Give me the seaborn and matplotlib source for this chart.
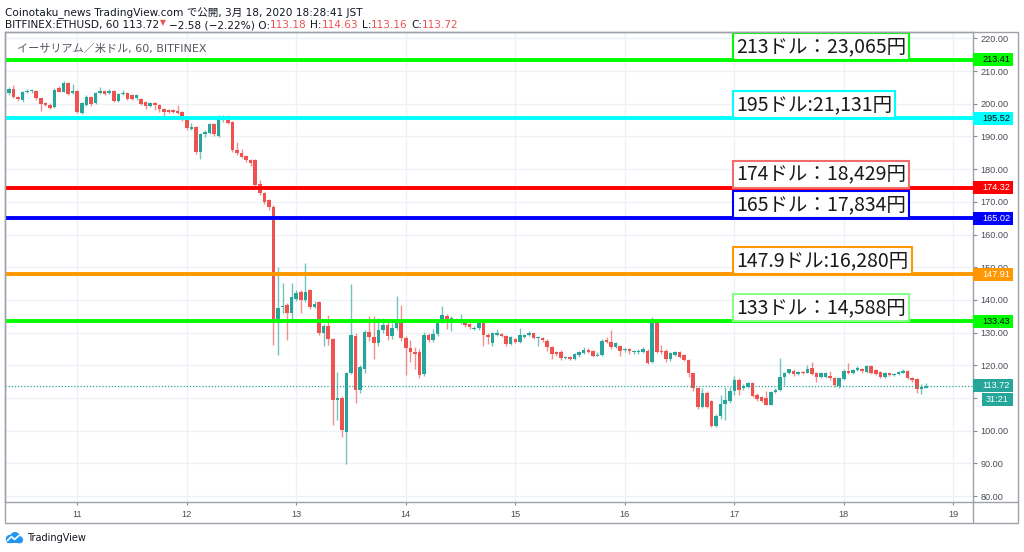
import numpy as np
import pandas as pd
import matplotlib
matplotlib.use('Agg')
import matplotlib.pyplot as plt
import matplotlib.transforms as mtransforms
from matplotlib.patches import Rectangle, Circle
from matplotlib.lines import Line2D
import seaborn as sns

sns.set_theme(style='white')
plt.rcParams['font.family'] = ['DejaVu Sans', 'Noto Sans CJK JP']

# ETHUSD 1時間足 (3/10 09:00 ～ 3/18 18:00)
first_hour = 10 + 9 / 24

open_ = [203.4, 204.5, 202.1, 201.1, 203.6, 203.9, 204.0, 201.6, 200.1, 199.7,
         198.9, 204.7, 203.7, 206.4, 203.4, 204.0, 197.3, 199.6, 202.1, 200.1,
         203.4, 204.0, 203.2, 204.0, 200.9, 203.0, 203.2, 202.7, 201.6, 201.3,
         200.4, 199.4, 200.1, 199.5, 198.3, 198.1, 198.0, 197.9, 197.6, 195.0,
         192.4, 192.8, 185.1, 190.6, 191.0, 193.8, 190.1, 195.0, 195.2, 194.5,
         185.8, 185.0, 184.0, 182.8, 182.8, 175.3, 172.6, 170.5, 168.5, 133.8,
         137.8, 138.4, 135.9, 140.4, 142.4, 140.0, 143.0, 137.9, 139.3, 129.8,
         132.0, 128.0, 109.4, 109.9, 99.7, 117.7, 129.0, 112.6, 118.8, 130.3,
         128.6, 126.9, 130.8, 132.3, 129.0, 131.3, 133.3, 128.2, 125.2, 124.2,
         124.0, 117.2, 129.3, 127.7, 129.5, 133.3, 135.2, 134.0, 134.2, 133.9,
         133.3, 132.6, 131.2, 131.3, 132.8, 129.3, 126.7, 129.3, 129.6, 129.1,
         126.5, 128.0, 127.2, 128.8, 129.3, 129.8, 128.3, 128.4, 127.5, 125.7,
         124.0, 124.2, 122.1, 122.4, 121.9, 123.2, 123.7, 124.7, 124.4, 123.0,
         123.2, 127.7, 127.2, 125.7, 125.9, 124.7, 124.9, 124.0, 124.0, 124.2,
         124.5, 121.1, 133.9, 124.5, 124.5, 121.8, 123.2, 124.2, 123.1, 121.6,
         117.5, 113.0, 107.4, 111.6, 109.1, 101.4, 104.5, 108.2, 109.2, 112.2,
         115.5, 113.0, 113.5, 114.7, 110.9, 110.2, 110.0, 108.0, 111.9, 112.4,
         116.3, 117.5, 118.4, 117.4, 118.0, 117.8, 119.1, 117.7, 116.3, 116.5,
         116.7, 116.0, 113.7, 115.7, 118.4, 117.8, 118.6, 118.8, 118.1, 119.8,
         118.6, 118.1, 116.5, 117.5, 116.9, 117.2, 117.8, 118.4, 116.0, 115.7,
         112.7, 113.18]
high = [205.2, 205.7, 202.5, 204.0, 204.5, 204.5, 204.2, 201.8, 200.5, 200.3,
        204.8, 205.5, 207.0, 206.7, 206.0, 204.3, 200.6, 202.6, 202.4, 203.5,
        205.0, 204.3, 204.4, 204.3, 203.4, 204.2, 203.6, 203.0, 203.0, 201.6,
        200.7, 200.5, 200.4, 199.8, 198.6, 198.4, 198.5, 199.6, 197.9, 195.3,
        194.2, 193.1, 191.0, 192.0, 194.2, 194.0, 196.5, 196.6, 196.6, 194.8,
        188.4, 186.0, 184.4, 183.2, 183.0, 176.8, 173.0, 171.0, 169.0, 150.2,
        145.1, 139.0, 145.1, 143.0, 143.0, 151.4, 143.4, 139.6, 139.8, 132.5,
        135.4, 128.5, 118.0, 110.5, 118.0, 144.9, 130.0, 120.0, 130.8, 135.0,
        135.2, 134.5, 134.5, 133.2, 133.0, 141.2, 138.4, 129.0, 127.8, 125.5,
        125.0, 130.3, 129.8, 131.0, 134.0, 138.1, 135.7, 135.0, 134.6, 135.8,
        134.3, 133.0, 132.0, 133.6, 133.2, 129.8, 130.2, 131.0, 130.0, 129.4,
        129.0, 128.4, 131.3, 129.6, 130.5, 130.0, 129.0, 128.8, 128.0, 126.0,
        124.4, 124.6, 122.8, 122.7, 123.9, 124.4, 125.5, 125.3, 124.8, 124.0,
        128.0, 128.7, 130.8, 127.2, 126.3, 125.3, 125.2, 124.8, 125.0, 125.5,
        124.9, 134.9, 134.3, 126.2, 124.9, 124.0, 124.5, 124.5, 123.4, 122.0,
        117.8, 113.5, 113.0, 112.0, 109.5, 105.0, 111.0, 113.5, 113.5, 116.8,
        116.0, 114.3, 115.0, 115.0, 111.6, 110.6, 112.0, 112.2, 113.0, 122.1,
        118.0, 119.0, 118.8, 118.4, 118.3, 120.0, 121.1, 118.0, 118.0, 118.0,
        118.3, 116.3, 116.5, 118.8, 120.8, 119.0, 119.8, 119.1, 120.1, 120.2,
        119.0, 118.4, 118.0, 117.8, 117.5, 118.3, 118.8, 118.7, 116.3, 116.0,
        114.2, 114.63]
low = [202.6, 201.8, 200.8, 200.6, 203.2, 203.2, 201.2, 197.9, 199.3, 198.4,
       198.6, 203.5, 203.5, 202.8, 203.0, 197.2, 196.8, 199.2, 199.4, 199.8,
       203.0, 202.6, 202.9, 200.6, 200.5, 202.7, 201.0, 201.1, 201.2, 199.5,
       198.5, 199.0, 198.2, 197.5, 196.3, 197.2, 197.2, 197.0, 194.8, 192.0,
       191.9, 184.5, 183.0, 189.8, 190.7, 190.0, 189.8, 194.5, 193.8, 185.3,
       184.3, 183.4, 182.2, 181.0, 174.6, 172.0, 169.3, 167.5, 126.2, 123.1,
       135.9, 127.7, 133.4, 139.8, 136.0, 139.5, 137.3, 137.4, 129.3, 125.9,
       126.2, 101.7, 103.3, 98.2, 89.8, 117.2, 108.4, 111.5, 117.8, 127.5,
       121.8, 126.0, 130.0, 127.8, 128.0, 130.8, 127.5, 117.0, 121.0, 119.0,
       116.0, 116.8, 127.2, 127.0, 129.0, 133.0, 131.0, 130.5, 133.2, 132.5,
       131.8, 131.0, 130.8, 130.8, 126.0, 126.5, 126.0, 129.0, 128.6, 126.0,
       126.2, 126.8, 126.8, 128.4, 129.0, 128.0, 126.0, 127.2, 124.4, 121.8,
       123.0, 121.7, 121.8, 121.5, 121.6, 122.6, 123.4, 123.9, 122.6, 122.7,
       122.8, 126.8, 125.0, 125.3, 123.0, 124.2, 123.4, 123.5, 123.6, 123.9,
       120.5, 120.6, 123.8, 123.5, 121.0, 121.4, 122.8, 122.2, 121.3, 116.5,
       112.0, 106.5, 107.0, 106.8, 101.0, 101.2, 103.5, 103.3, 108.6, 111.0,
       111.0, 112.6, 113.0, 110.2, 109.0, 108.8, 107.8, 107.8, 111.5, 112.0,
       114.0, 117.2, 116.8, 117.0, 117.3, 117.5, 117.0, 114.8, 116.0, 116.2,
       115.5, 113.3, 113.0, 115.4, 117.3, 117.3, 118.3, 117.8, 117.8, 117.4,
       117.0, 116.0, 116.2, 116.6, 116.7, 117.0, 117.5, 115.7, 115.0, 111.4,
       111.2, 113.16]
close = [204.4, 202.1, 201.3, 203.5, 204.0, 204.1, 201.6, 199.9, 199.7, 198.8,
         204.2, 203.7, 206.4, 203.0, 204.0, 197.6, 200.1, 202.1, 199.9, 203.2,
         204.0, 203.0, 204.0, 200.9, 203.0, 203.4, 201.3, 201.4, 202.6, 199.9,
         199.3, 200.1, 199.5, 198.3, 197.6, 197.5, 197.5, 197.3, 195.0, 192.5,
         192.8, 185.1, 190.6, 191.4, 193.8, 190.6, 195.2, 195.5, 194.2, 185.8,
         184.8, 183.8, 182.8, 181.8, 175.1, 172.6, 170.0, 168.5, 133.9, 137.4,
         138.2, 135.9, 140.8, 142.2, 140.0, 142.3, 137.9, 138.9, 129.8, 132.0,
         128.0, 109.4, 109.9, 100.2, 117.7, 129.3, 112.6, 119.4, 130.3, 128.6,
         126.9, 130.8, 132.3, 129.0, 131.3, 133.3, 128.2, 125.2, 124.2, 123.6,
         117.0, 129.3, 127.7, 129.5, 133.3, 135.4, 134.2, 134.4, 134.0, 134.2,
         132.3, 131.6, 131.5, 132.8, 129.3, 128.8, 129.8, 129.8, 129.1, 126.5,
         128.6, 127.2, 129.3, 129.2, 129.8, 128.3, 128.6, 127.6, 125.7, 123.5,
         123.6, 122.1, 122.4, 121.8, 123.5, 124.0, 124.7, 124.2, 123.0, 123.3,
         127.5, 127.2, 125.5, 126.7, 124.5, 124.9, 124.5, 124.4, 124.5, 124.9,
         120.8, 133.9, 124.2, 124.2, 121.8, 123.7, 124.2, 122.6, 121.6, 117.5,
         113.0, 107.4, 111.6, 107.4, 101.4, 104.5, 108.2, 109.4, 112.2, 115.5,
         112.5, 113.6, 114.7, 110.6, 109.6, 109.2, 108.0, 111.9, 112.6, 116.3,
         117.5, 118.8, 117.2, 118.0, 117.7, 118.8, 117.3, 116.5, 117.7, 117.7,
         116.0, 114.0, 116.0, 118.4, 117.6, 118.6, 119.1, 118.4, 119.8, 117.7,
         117.3, 116.3, 117.7, 116.9, 117.2, 117.9, 118.4, 116.0, 115.5, 112.7,
         113.5, 113.72]

# 水平線 (価格レベル)
levels = [213.41, 195.52, 174.32, 165.02, 147.91, 133.43]
level_colors = ['#00ff00', '#00ffff', '#ff0000', '#0000ff', '#ff9800', '#00ff00']
tag_text_colors = ['#000000', '#000000', '#ffffff', '#ffffff', '#ffffff', '#000000']
box_texts = ['213ドル：23,065円', '195ドル:21,131円', '174ドル：18,429円',
             '165ドル：17,834円', '147.9ドル:16,280円', '133ドル：14,588円']
box_edges = ['#00ff00', '#00ffff', '#f26c6c', '#0000ff', '#ff9800', '#88ff88']
last_price = 113.72
countdown = '31:21'
y_ticks = list(range(80, 221, 10))
day_ticks = list(range(11, 20))

df = pd.DataFrame({'open': open_, 'high': high, 'low': low, 'close': close})
df['t'] = first_hour + np.arange(len(df)) / 24
up = df['close'] >= df['open']
GREEN, RED = '#26a69a', '#ef5350'
df['color'] = np.where(up, GREEN, RED)

W, H = 1024, 552
fig = plt.figure(figsize=(W / 100, H / 100), dpi=100)
fig.patch.set_facecolor('white')
ax = fig.add_axes([5 / W, 1 - 502 / H, 968 / W, 470 / H])
ax.set_xlim(10.34, 19.18)
ax.set_ylim(78.2, 221.93)

# グリッド
ax.set_yticks(y_ticks, labels=[f'{v:.2f}' for v in y_ticks],
              fontsize=6.6, family='Liberation Sans', color='#4a4d57')
ax.set_xticks(day_ticks, labels=[str(d) for d in day_ticks],
              fontsize=6.6, family='Liberation Sans', color='#4a4d57')
ax.grid(True, color='#eef1f6', lw=1)
ax.yaxis.tick_right()
ax.tick_params(axis='y', length=3, width=0.8, color='#8a8d96', pad=2.5, right=True, left=False)
ax.tick_params(axis='x', length=2, width=0.8, color='#8a8d96', pad=4, bottom=True)
for sp in ax.spines.values():
    sp.set_color('#9ea1aa')
    sp.set_linewidth(1)

# ローソク足
ax.vlines(df['t'], df['low'], df['high'], colors=df['color'], lw=1, alpha=0.65, zorder=2)
body = np.maximum((df['close'] - df['open']).abs(), 0.25)
ax.bar(df['t'], body, bottom=np.minimum(df['open'], df['close']),
       width=0.78 / 24, color=df['color'], linewidth=0, zorder=3)

# 現在値の点線
ax.axhline(last_price, color=GREEN, lw=0.9, ls=(0, (1, 1.5)), zorder=3)

trans = mtransforms.blended_transform_factory(ax.transAxes, ax.transData)
unit_px = (221.93 - 78.2) / 470
for lv, c, tc, txt, ec in zip(levels, level_colors, tag_text_colors, box_texts, box_edges):
    ax.axhline(lv, color=c, lw=2.8, zorder=4)
    ax.annotate(txt, xy=(17.0, lv), xytext=(1.5, 2.2), textcoords='offset points',
                ha='left', va='bottom', fontsize=14, family=['Noto Sans CJK JP'],
                color='#1a1a1a', zorder=5,
                bbox=dict(boxstyle='square,pad=0.15', fc='white', ec=ec, lw=1.5))
    ax.add_patch(Rectangle((1.0, lv - 6.5 * unit_px), 40 / 968, 13 * unit_px,
                           transform=trans, fc=c, ec='none', clip_on=False, zorder=6))
    ax.text(1.0 + 9 / 968, lv, f'{lv:.2f}', transform=trans, ha='left', va='center',
            fontsize=6.6, family='Liberation Sans', color=tc, clip_on=False, zorder=7)

# 現在値タグとカウントダウン
ax.add_patch(Rectangle((1.0, last_price - 6.5 * unit_px), 40 / 968, 13 * unit_px,
                       transform=trans, fc=GREEN, ec='none', clip_on=False, zorder=6))
ax.text(1.0 + 9 / 968, last_price, f'{last_price:.2f}', transform=trans, ha='left',
        va='center', fontsize=6.6, family='Liberation Sans', color='white', clip_on=False, zorder=7)
ax.add_patch(Rectangle((1.0 + 9 / 968, last_price - 20.5 * unit_px), 31 / 968, 13 * unit_px,
                       transform=trans, fc=GREEN, ec='none', clip_on=False, zorder=6))
ax.text(1.0 + 24.5 / 968, last_price - 14 * unit_px, countdown, transform=trans, ha='center',
        va='center', fontsize=6.6, family='Liberation Sans', color='white', clip_on=False, zorder=7)

# 凡例テキスト
ax.text(12 / 968, 1 - 19.7 / 470, 'イーサリアム／米ドル, 60, BITFINEX', transform=ax.transAxes,
        fontsize=8, color='#555861', va='baseline', ha='left')

# 外枠
fig.add_artist(Rectangle((5 / W, 1 - 523 / H), 1013 / W, 491 / H, transform=fig.transFigure,
                         fill=False, ec='#9ea1aa', lw=1))
fig.add_artist(Line2D([973 / W, 1018 / W], [1 - 502 / H, 1 - 502 / H], color='#9ea1aa', lw=1))
fig.add_artist(Line2D([973 / W, 973 / W], [1 - 502 / H, 1 - 523 / H], color='#9ea1aa', lw=1))

# ヘッダー
DARK = '#131722'
fig.text(5 / W, 1 - 15.7 / H, 'Coinotaku_news TradingView.com で公開, 3月 18, 2020 18:28:41 JST',
         fontsize=7.6, color=DARK, va='baseline', ha='left')

renderer = fig.canvas.get_renderer()
space = 7.6 / 72 * 100 * 0.318
runs = [('BITFINEX:ETHUSD, 60 113.72', DARK, 0, 7.6), ('▼', RED, 0.5, 5.5),
        ('−2.58 (−2.22%) O:', DARK, space, 7.6), ('113.18', RED, 0, 7.6),
        ('H:', DARK, space, 7.6), ('114.63', RED, 0, 7.6),
        ('L:', DARK, space, 7.6), ('113.16', RED, 0, 7.6),
        ('C:', DARK, space, 7.6), ('113.72', RED, 0, 7.6)]
x = 5
for s, c, gap, fs in runs:
    x += gap
    y = 28.3 if fs > 6 else 25.5
    t = fig.text(x / W, 1 - y / H, s, fontsize=fs, color=c, va='baseline', ha='left')
    x += t.get_window_extent(renderer).width

# TradingView ロゴ
lax = fig.add_axes([4 / W, 1 - 545 / H, 20 / W, 14 / H])
lax.set_xlim(0, 20)
lax.set_ylim(0, 14)
lax.axis('off')
for cx, cy, r in [(6, 6, 4.2), (11, 8, 5), (15.5, 5.2, 3.6)]:
    lax.add_patch(Circle((cx, cy), r, fc='#2196f3', ec='none'))
lax.add_patch(Rectangle((3, 1.8), 14, 4, fc='#2196f3', ec='none'))
lax.plot([3.5, 7.5, 10.5, 15], [4.5, 8.5, 5.5, 9.5], color='white', lw=1.2)
fig.text(27 / W, 1 - 541 / H, 'TradingView', fontsize=7, color=DARK, va='baseline', ha='left')

fig.savefig('out.png', dpi=100, facecolor='white')
